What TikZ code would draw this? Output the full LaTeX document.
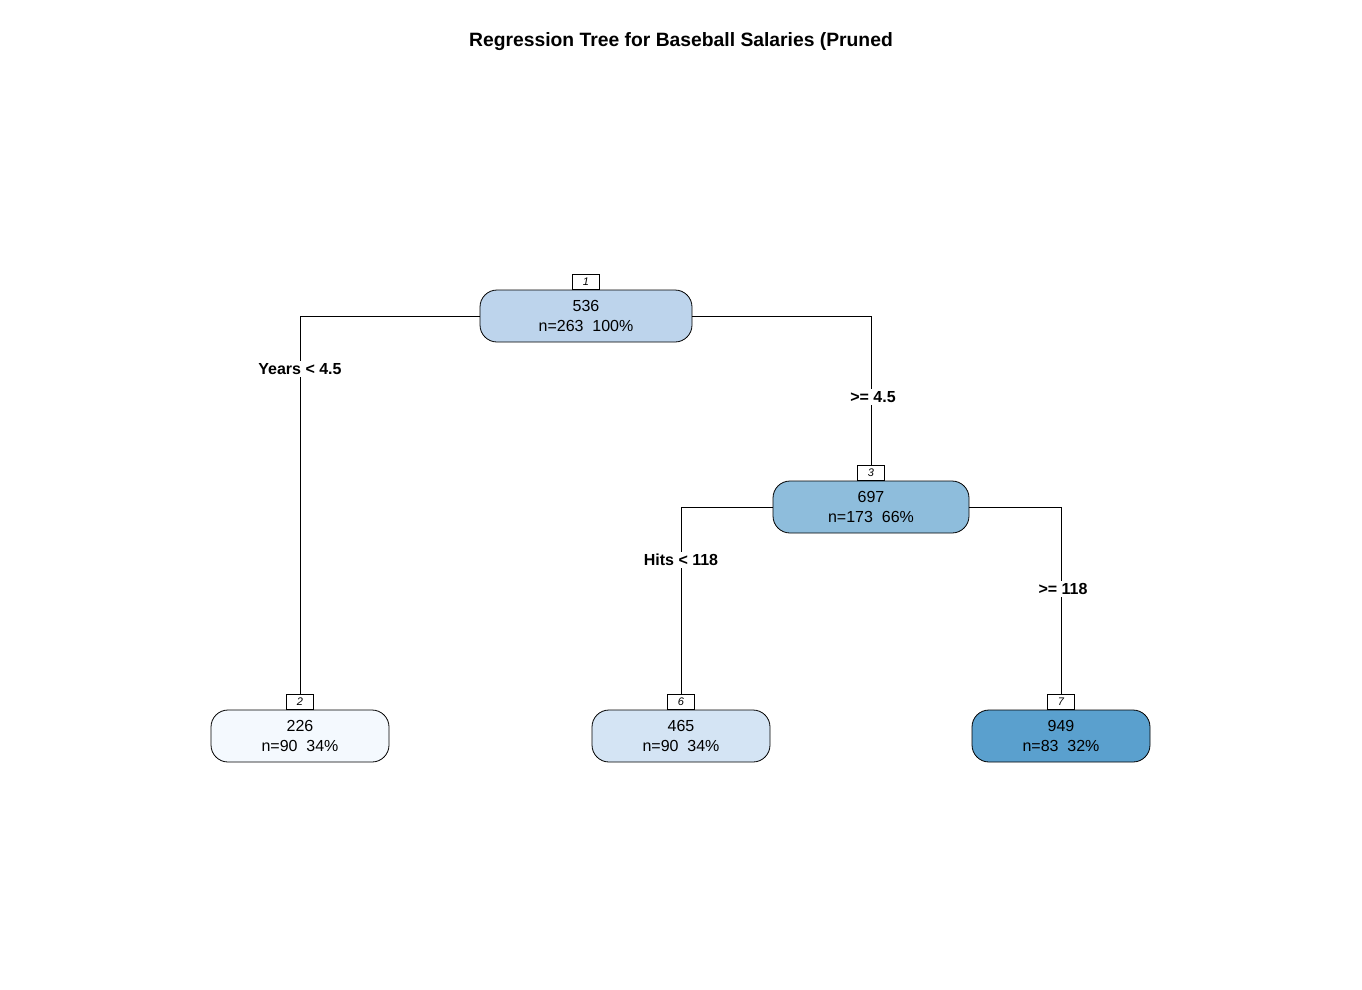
\documentclass[tikz,border=0pt]{standalone}
\usepackage{fontspec}
\setmainfont{Liberation Sans}
\usetikzlibrary{positioning}
\definecolor{leafA}{HTML}{F4F9FE}
\definecolor{leafB}{HTML}{D4E4F4}
\definecolor{rootC}{HTML}{BDD4EC}
\definecolor{splitC}{HTML}{8EBDDC}
\definecolor{leafC}{HTML}{5AA0CE}
\tikzstyle{treebox} = [rectangle, rounded corners=17pt, minimum height=52pt, align=center, inner sep=0pt, draw=black, line width=0.8pt, font=\fontsize{16}{20}\selectfont]
\tikzstyle{tagbox} = [rectangle, minimum width=27pt, minimum height=15pt, inner sep=0pt, draw=black, line width=0.8pt, fill=white, font=\fontsize{11}{11}\selectfont\itshape]
\tikzstyle{split} = [fill=white, inner sep=2pt, font=\fontsize{16}{16}\selectfont\bfseries]
\tikzstyle{edge} = [line width=0.8pt]

\begin{document}
\begin{tikzpicture}[x=1pt, y=-1pt]
        \useasboundingbox (0,0) rectangle (1362,989);
        \node[font=\fontsize{19.3}{19.3}\selectfont\bfseries] (title) at (681,42) {Regression Tree for Baseball Salaries (Pruned};

        \node[treebox, fill=rootC, minimum width=212pt] (n1) at (586,316) {536\\n=263\ \ 100\%};
        \node[treebox, fill=splitC, minimum width=196pt] (n3) at (871,507) {697\\n=173\ \ 66\%};
        \node[treebox, fill=leafA, minimum width=178pt] (n2) at (300,736) {226\\n=90\ \ 34\%};
        \node[treebox, fill=leafB, minimum width=178pt] (n6) at (681,736) {465\\n=90\ \ 34\%};
        \node[treebox, fill=leafC, minimum width=178pt] (n7) at (1061,736) {949\\n=83\ \ 32\%};

        \node[tagbox, above=0pt of n1] (t1) {1};
        \node[tagbox, above=0pt of n3] (t3) {3};
        \node[tagbox, above=0pt of n2] (t2) {2};
        \node[tagbox, above=0pt of n6] (t6) {6};
        \node[tagbox, above=0pt of n7] (t7) {7};

        \draw[edge] (n1.west) -| (t2.north);
        \draw[edge] (n1.east) -| (t3.north);
        \draw[edge] (n3.west) -| (t6.north);
        \draw[edge] (n3.east) -| (t7.north);

        \node[split] (s2) at (300,369) {Years < 4.5};
        \node[split] (s3) at (873,397) {>= 4.5};
        \node[split] (s6) at (681,560) {Hits < 118};
        \node[split] (s7) at (1063,589) {>= 118};
    \end{tikzpicture}
\end{document}
